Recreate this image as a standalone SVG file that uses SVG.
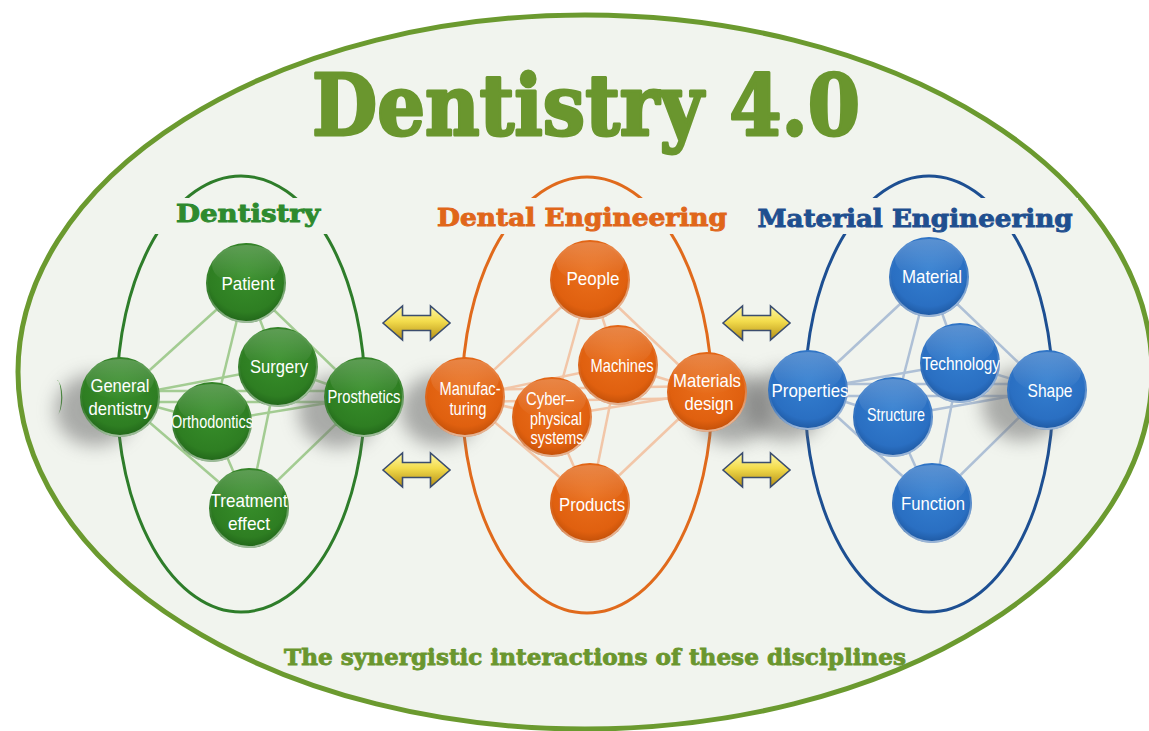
<svg xmlns="http://www.w3.org/2000/svg" width="1149" height="731" viewBox="0 0 1149 731">
<defs>
<style>
.lbl{font-family:"Liberation Sans",Arial,sans-serif;font-size:19px;fill:#ffffff;text-anchor:middle}
.gt{font-family:"DejaVu Serif","Liberation Serif",serif;font-weight:bold}
.eg{stroke:#a3cc92;stroke-width:2.5;fill:none}
.eo{stroke:#f2c6a8;stroke-width:2.5;fill:none}
.eb{stroke:#aec0d6;stroke-width:2.5;fill:none}
.shadow{fill:#6e6e6e;opacity:0.55;filter:url(#blur)}
.hl{fill:url(#hl)}
.rim{fill:none;stroke:url(#rim);stroke-width:2}
.arr{fill:url(#ay);stroke:#3b4d6e;stroke-width:1.6;stroke-linejoin:miter}
</style>
<filter id="blur" x="-50%" y="-50%" width="200%" height="200%"><feGaussianBlur stdDeviation="9"/></filter>
<radialGradient id="gG" cx="50%" cy="40%" r="62%"><stop offset="0" stop-color="#388f2b"/><stop offset="0.75" stop-color="#2e7e22"/><stop offset="1" stop-color="#1f6118"/></radialGradient>
<radialGradient id="gO" cx="50%" cy="40%" r="62%"><stop offset="0" stop-color="#ea6f1c"/><stop offset="0.75" stop-color="#e0600f"/><stop offset="1" stop-color="#bb4c07"/></radialGradient>
<radialGradient id="gB" cx="50%" cy="40%" r="62%"><stop offset="0" stop-color="#347fd0"/><stop offset="0.75" stop-color="#2a6fc2"/><stop offset="1" stop-color="#1c549b"/></radialGradient>
<linearGradient id="hl" x1="0" y1="0" x2="0" y2="1"><stop offset="0" stop-color="#ffffff" stop-opacity="0.22"/><stop offset="1" stop-color="#ffffff" stop-opacity="0"/></linearGradient>
<linearGradient id="rim" x1="0" y1="0" x2="0.3" y2="1"><stop offset="0" stop-color="#ffffff" stop-opacity="0"/><stop offset="0.6" stop-color="#ffffff" stop-opacity="0.08"/><stop offset="1" stop-color="#ffffff" stop-opacity="0.55"/></linearGradient>
<linearGradient id="ay" x1="0" y1="0" x2="0" y2="1"><stop offset="0" stop-color="#fff7a8"/><stop offset="0.45" stop-color="#f3dc4c"/><stop offset="1" stop-color="#b38d14"/></linearGradient>
<symbol id="darrow" viewBox="-34 -18 68 36" width="68" height="36" overflow="visible">
<polygon class="arr" points="-33.5,0 -14,-17 -14,-7.5 14,-7.5 14,-17 33.5,0 14,17 14,7.5 -14,7.5 -14,17"/>
</symbol>
</defs>

<rect width="1149" height="731" fill="#ffffff"/>
<ellipse cx="585" cy="372" rx="567" ry="357" fill="#f1f4ee" stroke="#6b9a2f" stroke-width="5"/>

<text class="gt" x="586" y="135" font-size="84" fill="#6a962e" stroke="#6a962e" stroke-width="3" stroke-linejoin="round" text-anchor="middle" textLength="548" lengthAdjust="spacingAndGlyphs">Dentistry 4.0</text>

<!-- inner ellipses -->
<g id="frames" fill="none" stroke-width="3">
<ellipse cx="241" cy="394" rx="124" ry="218" stroke="#2e7d2a"/>
<ellipse cx="587" cy="395" rx="125" ry="218" stroke="#e06a1c"/>
<ellipse cx="929" cy="394" rx="124" ry="218" stroke="#1d4f92"/>
</g>

<!-- title backgrounds & titles -->
<g id="titles">
<rect x="150" y="198" width="188" height="36" fill="#f1f4ee"/>
<rect x="420" y="198" width="325" height="36" fill="#f1f4ee"/>
<rect x="750" y="198" width="328" height="36" fill="#f1f4ee"/>
<text class="gt" x="248" y="222" font-size="24" fill="#2e8a2e" stroke="#2e8a2e" stroke-width="0.9" text-anchor="middle" textLength="144" lengthAdjust="spacingAndGlyphs">Dentistry</text>
<text class="gt" x="582" y="226" font-size="24" fill="#e0661a" stroke="#e0661a" stroke-width="0.9" text-anchor="middle" textLength="290" lengthAdjust="spacingAndGlyphs">Dental Engineering</text>
<text class="gt" x="915" y="227" font-size="24" fill="#1f4f8f" stroke="#1f4f8f" stroke-width="0.9" text-anchor="middle" textLength="315" lengthAdjust="spacingAndGlyphs">Material Engineering</text>
</g>

<!-- small green sliver at left -->
<path d="M57,380 A7,18 0 0 1 57,415 A4,17 0 0 0 57,380 Z" fill="#3d8f2e"/>

<!-- connectors -->
<g id="connectors">
<g class="eg">
<line x1="246" y1="283" x2="120" y2="397"/><line x1="246" y1="283" x2="278" y2="367"/><line x1="246" y1="283" x2="364" y2="397"/><line x1="246" y1="283" x2="212" y2="422"/>
<line x1="249" y1="508" x2="120" y2="397"/><line x1="249" y1="508" x2="212" y2="422"/><line x1="249" y1="508" x2="278" y2="367"/><line x1="249" y1="508" x2="364" y2="397"/>
<line x1="120" y1="397" x2="278" y2="367"/><line x1="120" y1="397" x2="212" y2="422"/><line x1="120" y1="391" x2="364" y2="391"/><line x1="120" y1="402" x2="364" y2="402"/>
<line x1="278" y1="367" x2="364" y2="397"/><line x1="212" y1="422" x2="364" y2="397"/>
</g>
<g class="eo">
<line x1="590" y1="280" x2="465" y2="397"/><line x1="590" y1="280" x2="618" y2="365"/><line x1="590" y1="280" x2="707" y2="392"/><line x1="590" y1="280" x2="552" y2="417"/>
<line x1="590" y1="503" x2="465" y2="397"/><line x1="590" y1="503" x2="552" y2="417"/><line x1="590" y1="503" x2="618" y2="365"/><line x1="590" y1="503" x2="707" y2="392"/>
<line x1="465" y1="397" x2="618" y2="365"/><line x1="465" y1="397" x2="552" y2="417"/><line x1="465" y1="390" x2="707" y2="386"/><line x1="465" y1="402" x2="707" y2="398"/>
<line x1="618" y1="365" x2="707" y2="392"/><line x1="552" y1="417" x2="707" y2="392"/>
</g>
<g class="eb">
<line x1="929" y1="277" x2="808" y2="390"/><line x1="929" y1="277" x2="960" y2="363"/><line x1="929" y1="277" x2="1047" y2="390"/><line x1="929" y1="277" x2="893" y2="417"/>
<line x1="932" y1="503" x2="808" y2="390"/><line x1="932" y1="503" x2="893" y2="417"/><line x1="932" y1="503" x2="960" y2="363"/><line x1="932" y1="503" x2="1047" y2="390"/>
<line x1="808" y1="390" x2="960" y2="363"/><line x1="808" y1="390" x2="893" y2="417"/><line x1="808" y1="384" x2="1047" y2="384"/><line x1="808" y1="396" x2="1047" y2="396"/>
<line x1="960" y1="363" x2="1047" y2="390"/><line x1="893" y1="417" x2="1047" y2="390"/>
</g>
</g>

<!-- shadows of outer nodes -->
<g id="shadows">
<ellipse class="shadow" cx="95" cy="410" rx="40" ry="36"/>
<ellipse class="shadow" cx="338" cy="412" rx="40" ry="36"/>
<ellipse class="shadow" cx="440" cy="410" rx="40" ry="36"/>
<ellipse class="shadow" cx="732" cy="408" rx="40" ry="36"/>
<ellipse class="shadow" cx="785" cy="405" rx="40" ry="36"/>
<ellipse class="shadow" cx="1022" cy="405" rx="40" ry="36"/>
</g>

<!-- green nodes -->
<g id="n-patient"><circle cx="246" cy="283" r="40" fill="url(#gG)"/><ellipse class="hl" cx="246" cy="265" rx="34" ry="20"/><circle class="rim" cx="246" cy="283" r="39"/><text class="lbl" x="248" y="290" textLength="53" lengthAdjust="spacingAndGlyphs">Patient</text></g>
<g id="n-surgery"><circle cx="278" cy="367" r="40" fill="url(#gG)"/><ellipse class="hl" cx="278" cy="349" rx="34" ry="20"/><circle class="rim" cx="278" cy="367" r="39"/><text class="lbl" x="279" y="373" textLength="58" lengthAdjust="spacingAndGlyphs">Surgery</text></g>
<g id="n-general"><circle cx="120" cy="397" r="40" fill="url(#gG)"/><ellipse class="hl" cx="120" cy="379" rx="34" ry="20"/><circle class="rim" cx="120" cy="397" r="39"/><text class="lbl" x="120" y="392" textLength="59" lengthAdjust="spacingAndGlyphs">General</text><text class="lbl" x="120" y="415" textLength="63" lengthAdjust="spacingAndGlyphs">dentistry</text></g>
<g id="n-ortho"><circle cx="212" cy="422" r="40" fill="url(#gG)"/><ellipse class="hl" cx="212" cy="404" rx="34" ry="20"/><circle class="rim" cx="212" cy="422" r="39"/><text class="lbl" x="212" y="428" textLength="82" lengthAdjust="spacingAndGlyphs">Orthodontics</text></g>
<g id="n-prosth"><circle cx="364" cy="397" r="40" fill="url(#gG)"/><ellipse class="hl" cx="364" cy="379" rx="34" ry="20"/><circle class="rim" cx="364" cy="397" r="39"/><text class="lbl" x="364" y="403" textLength="73" lengthAdjust="spacingAndGlyphs">Prosthetics</text></g>
<g id="n-treat"><circle cx="249" cy="508" r="40" fill="url(#gG)"/><ellipse class="hl" cx="249" cy="490" rx="34" ry="20"/><circle class="rim" cx="249" cy="508" r="39"/><text class="lbl" x="249" y="507" textLength="77" lengthAdjust="spacingAndGlyphs">Treatment</text><text class="lbl" x="249" y="530" textLength="42" lengthAdjust="spacingAndGlyphs">effect</text></g>

<!-- orange nodes -->
<g id="n-people"><circle cx="590" cy="280" r="40" fill="url(#gO)"/><ellipse class="hl" cx="590" cy="262" rx="34" ry="20"/><circle class="rim" cx="590" cy="280" r="39"/><text class="lbl" x="593" y="285" textLength="53" lengthAdjust="spacingAndGlyphs">People</text></g>
<g id="n-machines"><circle cx="618" cy="365" r="40" fill="url(#gO)"/><ellipse class="hl" cx="618" cy="347" rx="34" ry="20"/><circle class="rim" cx="618" cy="365" r="39"/><text class="lbl" x="622" y="372" textLength="63" lengthAdjust="spacingAndGlyphs">Machines</text></g>
<g id="n-manuf"><circle cx="465" cy="397" r="40" fill="url(#gO)"/><ellipse class="hl" cx="465" cy="379" rx="34" ry="20"/><circle class="rim" cx="465" cy="397" r="39"/><text class="lbl" x="470" y="395" textLength="61" lengthAdjust="spacingAndGlyphs">Manufac-</text><text class="lbl" x="468" y="415" textLength="37" lengthAdjust="spacingAndGlyphs">turing</text></g>
<g id="n-cyber"><circle cx="552" cy="417" r="40" fill="url(#gO)"/><ellipse class="hl" cx="552" cy="399" rx="34" ry="20"/><circle class="rim" cx="552" cy="417" r="39"/><text class="lbl" x="550" y="405" textLength="48" lengthAdjust="spacingAndGlyphs">Cyber–</text><text class="lbl" x="556" y="425" textLength="52" lengthAdjust="spacingAndGlyphs">physical</text><text class="lbl" x="557" y="444" textLength="53" lengthAdjust="spacingAndGlyphs">systems</text></g>
<g id="n-matdesign"><circle cx="707" cy="392" r="40" fill="url(#gO)"/><ellipse class="hl" cx="707" cy="374" rx="34" ry="20"/><circle class="rim" cx="707" cy="392" r="39"/><text class="lbl" x="707" y="387" textLength="68" lengthAdjust="spacingAndGlyphs">Materials</text><text class="lbl" x="709" y="410" textLength="49" lengthAdjust="spacingAndGlyphs">design</text></g>
<g id="n-products"><circle cx="590" cy="503" r="40" fill="url(#gO)"/><ellipse class="hl" cx="590" cy="485" rx="34" ry="20"/><circle class="rim" cx="590" cy="503" r="39"/><text class="lbl" x="592" y="511" textLength="66" lengthAdjust="spacingAndGlyphs">Products</text></g>

<!-- blue nodes -->
<g id="n-material"><circle cx="929" cy="277" r="40" fill="url(#gB)"/><ellipse class="hl" cx="929" cy="259" rx="34" ry="20"/><circle class="rim" cx="929" cy="277" r="39"/><text class="lbl" x="932" y="283" textLength="60" lengthAdjust="spacingAndGlyphs">Material</text></g>
<g id="n-tech"><circle cx="960" cy="363" r="40" fill="url(#gB)"/><ellipse class="hl" cx="960" cy="345" rx="34" ry="20"/><circle class="rim" cx="960" cy="363" r="39"/><text class="lbl" x="961" y="370" textLength="78" lengthAdjust="spacingAndGlyphs">Technology</text></g>
<g id="n-props"><circle cx="808" cy="390" r="40" fill="url(#gB)"/><ellipse class="hl" cx="808" cy="372" rx="34" ry="20"/><circle class="rim" cx="808" cy="390" r="39"/><text class="lbl" x="810" y="397" textLength="77" lengthAdjust="spacingAndGlyphs">Properties</text></g>
<g id="n-struct"><circle cx="893" cy="417" r="40" fill="url(#gB)"/><ellipse class="hl" cx="893" cy="399" rx="34" ry="20"/><circle class="rim" cx="893" cy="417" r="39"/><text class="lbl" x="896" y="421" textLength="58" lengthAdjust="spacingAndGlyphs">Structure</text></g>
<g id="n-shape"><circle cx="1047" cy="390" r="40" fill="url(#gB)"/><ellipse class="hl" cx="1047" cy="372" rx="34" ry="20"/><circle class="rim" cx="1047" cy="390" r="39"/><text class="lbl" x="1050" y="397" textLength="45" lengthAdjust="spacingAndGlyphs">Shape</text></g>
<g id="n-function"><circle cx="932" cy="503" r="40" fill="url(#gB)"/><ellipse class="hl" cx="932" cy="485" rx="34" ry="20"/><circle class="rim" cx="932" cy="503" r="39"/><text class="lbl" x="933" y="510" textLength="64" lengthAdjust="spacingAndGlyphs">Function</text></g>

<!-- double arrows -->
<g id="arrows">
<use href="#darrow" x="382.5" y="305"/>
<use href="#darrow" x="382.5" y="452"/>
<use href="#darrow" x="722.5" y="305"/>
<use href="#darrow" x="722.5" y="452"/>
</g>

<text class="gt" x="595" y="665" font-size="22" fill="#6a962e" stroke="#6a962e" stroke-width="0.8" text-anchor="middle" textLength="622" lengthAdjust="spacingAndGlyphs">The synergistic interactions of these disciplines</text>
</svg>
